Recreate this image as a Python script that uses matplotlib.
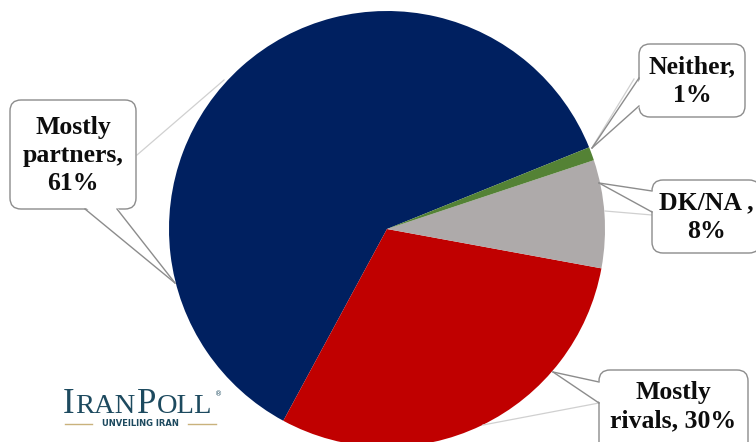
import matplotlib
matplotlib.use('Agg')
import matplotlib.pyplot as plt
from matplotlib.patches import FancyBboxPatch, Polygon

# survey answers
labels = ['Mostly\npartners,\n61%', 'Mostly\nrivals, 30%', 'DK/NA ,\n8%', 'Neither,\n1%']
values = [61, 30, 8, 1]
colors = ['#002060', '#C00000', '#AEAAAA', '#548235']

W, H = 756, 442
fig = plt.figure(figsize=(W / 100, H / 100), dpi=100)
ax = fig.add_axes([0, 0, 1, 1])

# y axis runs top-down (pixel style), so clockwise in data = counterclockwise on screen
cx, cy, r = 387, 229, 218
ax.pie(values, colors=colors, startangle=-22, counterclock=False,
       center=(cx, cy), radius=r, wedgeprops=dict(linewidth=0))
ax.set_xlim(0, W)
ax.set_ylim(H, 0)
ax.set_aspect('equal', adjustable='box')
ax.axis('off')

edge = '#8c8c8c'
lead = '#d0d0d0'
font = dict(family='Liberation Serif', weight='bold', fontsize=18.5, color='#0d0d0d')

# box (x0, y0, x1, y1), pointer base points, pointer tip, leader line
callouts = [
    ((10, 100, 136, 209), [(85, 209), (117, 209)], (175, 283), [(137, 155), (224, 80)]),
    ((599, 370, 748, 460), [(599, 382), (599, 403)], (553, 372), [(599, 403), (483, 425)]),
    ((652, 180, 760, 253), [(652, 191), (652, 212)], (599, 183), [(652, 215), (605, 211)]),
    ((639, 44, 745, 117), [(639, 78), (639, 106)], (592, 148), [(634, 79), (593, 146)]),
]

for lab, (box, base, tip, ld) in zip(labels, callouts):
    x0, y0, x1, y1 = box
    ax.plot([ld[0][0], ld[1][0]], [ld[0][1], ld[1][1]], color=lead, lw=0.9, zorder=2)
    ax.add_patch(FancyBboxPatch((x0, y0), x1 - x0, y1 - y0,
                                boxstyle='round,pad=0,rounding_size=11',
                                fc='white', ec=edge, lw=1.0, zorder=3))
    # pointer: white wedge covering the box border, then its two edges
    vert = base[0][0] == base[1][0]
    inset = [(p[0] + 2, p[1]) if vert else (p[0], p[1] - 2) for p in base]
    ax.add_patch(Polygon([inset[0], tip, inset[1]], closed=True, fc='white', ec='none', zorder=4))
    for p in base:
        ax.plot([p[0], tip[0]], [p[1], tip[1]], color=edge, lw=1.0, zorder=5)
    ax.text((x0 + x1) / 2, (y0 + min(y1, H)) / 2 + 1, lab, ha='center', va='center',
            linespacing=1.3, zorder=6, **font)

# IranPoll logo
logo = '#1d4a5f'
x = 63
for part, big in [('I', True), ('RAN', False), ('P', True), ('OLL', False)]:
    t = ax.text(x, 413, part, family='Liberation Serif', fontsize=25 if big else 20.5,
                color=logo, va='baseline', ha='left', zorder=6)
    fig.canvas.draw()
    bb = t.get_window_extent()
    x += bb.width + 1
ax.text(x + 1, 394, '®', fontsize=5, color=logo, ha='left', va='center', zorder=6)
ax.text(140, 424, 'UNVEILING IRAN', family='DejaVu Sans', weight='bold', fontsize=6,
        color=logo, ha='center', va='center', zorder=6)
ax.plot([65, 92], [424, 424], color='#c9b27c', lw=1.0)
ax.plot([188, 216], [424, 424], color='#c9b27c', lw=1.0)

fig.savefig('out.png', dpi=100)
